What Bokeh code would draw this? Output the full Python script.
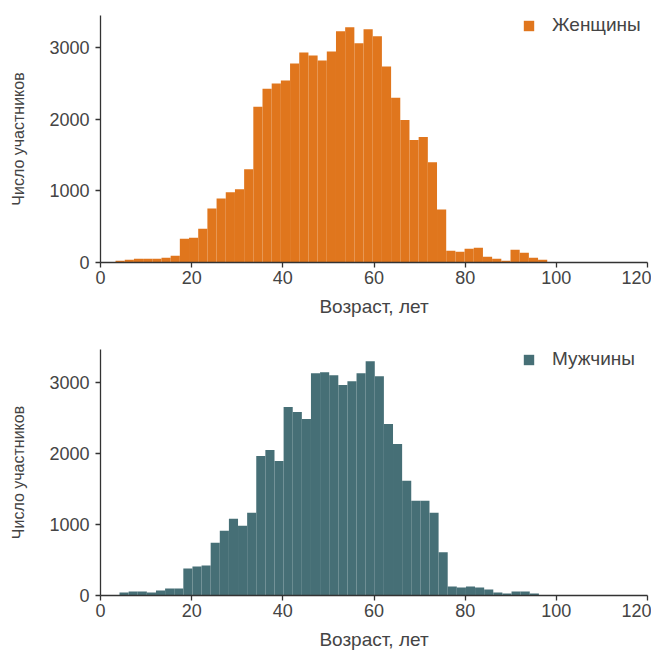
import numpy as np
from bokeh.plotting import figure
from bokeh.layouts import column
from bokeh.models import Range1d, FixedTicker
from bokeh.embed import file_html
from bokeh.resources import INLINE

# ---- data ----
women_label = "Женщины"
men_label = "Мужчины"
x_label = "Возраст, лет"
y_label = "Число участников"

women_bin_start = 3.3
women_bin_width = 2.015
women_counts = [23, 38, 52, 52, 52, 66, 94, 333, 347, 473, 755, 895, 980, 1022, 1303,
                2175, 2428, 2499, 2541, 2780, 2935, 2893, 2822, 2949, 3230, 3286, 3061,
                3258, 3160, 2738, 2302, 1992, 1711, 1753, 1402, 741, 164, 150, 192, 206,
                80, 52, 23, 178, 136, 66, 38]

men_bin_start = 4.17
men_bin_width = 2.0
men_counts = [42, 56, 56, 42, 70, 98, 98, 380, 408, 422, 745, 914, 1083, 985, 1167,
              1969, 2053, 1899, 2658, 2588, 2489, 3136, 3150, 3108, 2968, 3024, 3136,
              3305, 3094, 2419, 2138, 1617, 1336, 1336, 1167, 609, 127, 112, 127, 112,
              84, 42, 28, 56, 56, 28]

x_ticks = [0, 20, 40, 60, 80, 100, 120]
y_ticks = [0, 1000, 2000, 3000]

WOMEN_COLOR = "#E0761D"
MEN_COLOR = "#466F76"
FONT = "Liberation Sans"
TEXT_COLOR = "#444444"
AXIS_COLOR = "#333333"


def make_hist(counts, start, width, color, label, top_border, frame_h):
    edges = start + width * np.arange(len(counts) + 1)
    p = figure(frame_width=547, frame_height=frame_h, output_backend="svg",
               toolbar_location=None,
               x_range=Range1d(0, 120), y_range=Range1d(0, max(counts) * 1.05))
    p.min_border_left = 100
    p.min_border_right = 4
    p.min_border_top = top_border
    p.min_border_bottom = 57
    p.quad(left=edges[:-1], right=edges[1:], bottom=0, top=counts,
           fill_color=color, line_color=None, legend_label=label)
    p.outline_line_color = None
    p.xgrid.visible = False
    p.ygrid.visible = False
    p.background_fill_color = "white"
    p.border_fill_color = "white"

    p.xaxis.ticker = FixedTicker(ticks=x_ticks)
    p.yaxis.ticker = FixedTicker(ticks=y_ticks)
    p.xaxis.axis_label = x_label
    p.yaxis.axis_label = y_label
    for ax in (p.xaxis, p.yaxis):
        ax.axis_line_color = AXIS_COLOR
        ax.axis_line_width = 1.3
        ax.major_tick_line_color = AXIS_COLOR
        ax.major_tick_line_width = 1.3
        ax.major_tick_out = 5
        ax.major_tick_in = 0
        ax.minor_tick_line_color = None
        ax.major_label_text_font = FONT
        ax.major_label_text_font_size = "18px"
        ax.major_label_text_color = TEXT_COLOR
        ax.axis_label_text_font = FONT
        ax.axis_label_text_font_style = "normal"
        ax.axis_label_text_color = TEXT_COLOR
    p.xaxis.axis_label_text_font_size = "19px"
    p.yaxis.axis_label_text_font_size = "16px"
    p.xaxis.major_label_standoff = 3
    p.xaxis.axis_label_standoff = 9
    p.yaxis.major_label_standoff = 6
    p.yaxis.axis_label_standoff = 19

    lg = p.legend[0]
    lg.location = (422, frame_h - 21)
    lg.border_line_color = None
    lg.background_fill_alpha = 0
    lg.label_text_font = FONT
    lg.label_text_font_size = "19px"
    lg.label_text_color = TEXT_COLOR
    lg.glyph_width = 13
    lg.glyph_height = 13
    lg.label_standoff = 17
    lg.margin = 0
    lg.padding = 0
    return p


p1 = make_hist(women_counts, women_bin_start, women_bin_width, WOMEN_COLOR, women_label,
               15, 247)
p2 = make_hist(men_counts, men_bin_start, men_bin_width, MEN_COLOR, men_label,
               30, 246)

layout = column(p1, p2, spacing=0)
open("out.html", "w").write(file_html(layout, INLINE))
